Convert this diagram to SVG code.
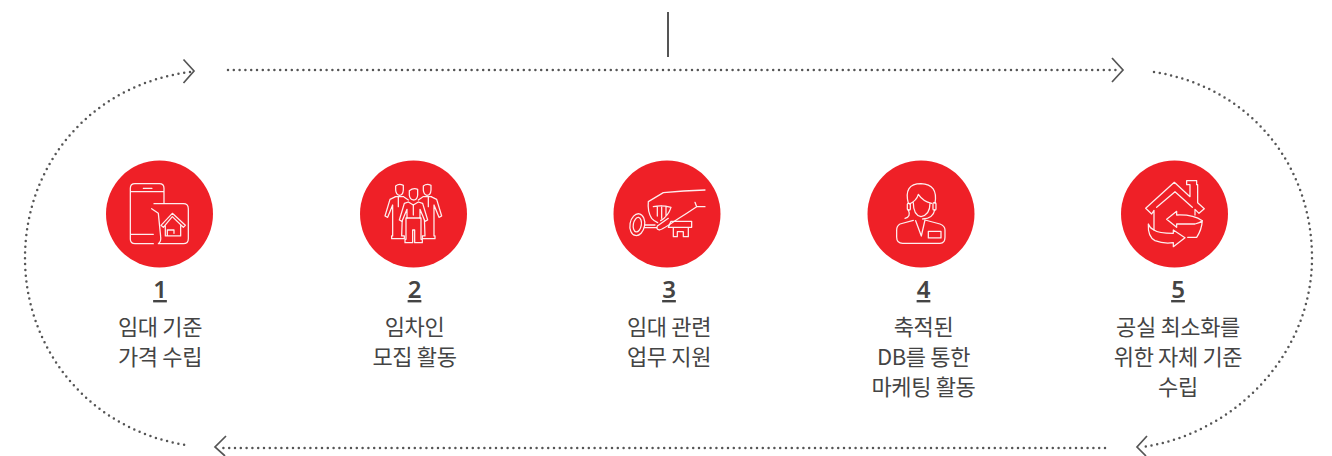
<svg xmlns="http://www.w3.org/2000/svg" width="1332" height="456" viewBox="0 0 1332 456">
<style>
.dot{fill:none;stroke:#555;stroke-width:2.500;stroke-linecap:round;stroke-dasharray:0 5.800}
.head{fill:none;stroke:#555;stroke-width:1.700}
.disc{fill:#ef2027}
.ic{fill:none;stroke:#fff;stroke-width:3.800;stroke-linejoin:round;stroke-linecap:round;stroke-opacity:.92}
.ic .f{fill:#ef2027}
text{font-family:"Noto Sans CJK KR","Noto Sans",sans-serif;fill:#444;text-anchor:middle}
.n{font-family:"Noto Sans","Noto Sans CJK KR",sans-serif;font-size:24px;font-weight:600;text-decoration:underline}
.l{font-size:22px;letter-spacing:-.35px}
</style>
<g id="connectors">
<line x1="668" y1="12" x2="668" y2="57" stroke="#555" stroke-width="2"/>
<path class="dot" d="M190 72C90 85 25 165 25 258C25 350 90 430 186 445"/>
<path class="head" d="M183.500 59.500L194 71L183.500 83"/>
<path class="dot" d="M228 70H1120"/>
<path class="head" d="M1112 58L1123 70L1112 82"/>
<path class="dot" d="M1154 72C1250 87 1312 165 1312 258C1312 350 1240 432 1143 447"/>
<path class="head" d="M1147 436L1137 447L1146 456"/>
<path class="dot" d="M1105 448H220"/>
<path class="head" d="M226 436L215 447L225 456"/>
</g>
<g id="node1">
<circle class="disc" cx="159.500" cy="214" r="53.500"/>
<g class="ic" transform="translate(90 150) scale(.3333)">
<path d="M222 160V115Q222 101 208 101H135Q121 101 121 115V268Q121 281 135 281H190M121 125H222M160 115H186M121 253H190"/>
<path d="M192 161H280Q295 161 295 176V266Q295 281 280 281H205Q214 275 212 260L205 190L185 176"/>
<path d="M213 226L247 190L286 226L280 232L247 200L220 232ZM226 228V258H272V226M232 258V240H252V250"/>
</g>
<text class="n" x="160" y="298">1</text>
<text class="l" x="160" y="335">임대 기준</text>
<text class="l" x="160" y="365">가격 수립</text>
</g>
<g id="node2">
<circle class="disc" cx="413.500" cy="214" r="53.500"/>
<g class="ic" transform="translate(345 150) scale(.3333)">
<path d="M152 108Q162 100 175 106V120Q174 136 163 136Q153 134 152 120ZM152 140L135 148L120 198L128 202L143 165V258H140V266H178V258H170L172 200M178 142L190 150M150 140H176M160 140V170"/>
<path d="M235 108Q245 100 258 106V120Q257 136 246 136Q236 134 235 120ZM258 140L275 148L290 198L282 202L267 165V258H270V266H232V258H240L238 200M232 142L220 150M234 140H260M250 140V170"/>
<path class="f" d="M193 122Q205 113 218 118V135Q217 150 205 150Q194 148 193 135ZM190 156L178 160L163 210L171 214L186 178V204H183V268H180V278H203V240H209V278H232V268H228V204H225V178L240 214L248 210L233 160L220 156L205 165Z"/>
<path d="M205 165V195M186 204H225"/>
</g>
<text class="n" x="414.500" y="298">2</text>
<text class="l" x="414.500" y="335">임차인</text>
<text class="l" x="414.500" y="365">모집 활동</text>
</g>
<g id="node3">
<circle class="disc" cx="667" cy="214" r="53.500"/>
<g class="ic" transform="translate(600 150) scale(.3333)">
<path d="M315 120Q250 122 190 128L145 155Q142 185 155 205Q163 214 173 218"/>
<path d="M160 170Q185 165 213 172Q205 198 182 212M172 170V198M185 168V205M198 170V198"/>
<path d="M172 228Q168 238 178 240Q186 240 232 208Q260 190 290 170H315M285 157L290 170M172 228L205 205"/>
<ellipse cx="112" cy="224" rx="22" ry="33" transform="rotate(10 112 224)"/>
<ellipse cx="112" cy="224" rx="12" ry="22" transform="rotate(10 112 224)"/>
<path d="M135 225H165M134 233H170M205 232L213 214H275V232ZM220 232V260H232V245H250V260H265V232"/>
</g>
<text class="n" x="669" y="298">3</text>
<text class="l" x="669" y="335">임대 관련</text>
<text class="l" x="669" y="365">업무 지원</text>
</g>
<g id="node4">
<circle class="disc" cx="921" cy="214" r="53.500"/>
<g class="ic" transform="translate(850 150) scale(.3333)">
<path d="M175 160Q160 101 213 101Q265 103 255 160M178 162Q200 152 205 133Q220 155 245 160M190 158Q190 195 213 200Q240 195 240 160"/>
<rect x="172" y="160" width="9" height="20" rx="3"/>
<rect x="249" y="158" width="9" height="22" rx="3"/>
<path d="M254 180Q250 205 218 207M175 180Q184 200 165 205"/>
<path d="M190 211L150 222Q140 228 140 240V262Q140 280 158 280H270Q285 280 285 262V240Q285 228 270 222L225 210M197 212L214 258L225 210"/>
<rect x="235" y="244" width="38" height="20"/>
</g>
<text class="n" x="923.500" y="298">4</text>
<text class="l" x="923.500" y="335">축적된</text>
<text class="l" x="923.500" y="365">DB를 통한</text>
<text class="l" x="923.500" y="395">마케팅 활동</text>
</g>
<g id="node5">
<circle class="disc" cx="1174.500" cy="214" r="53.500"/>
<g class="ic" transform="translate(1105 150) scale(.3333)">
<path d="M147 240V181L140 192L122 175L208 97L255 140V104H245V92H275V104H278V158L298 176L282 190L270 178V195M155 172L210 125L262 172"/>
<path d="M215 195V184L185 208L215 232V222H270Q285 218 292 212Q290 240 275 262H248M215 195Q265 193 292 212"/>
<path d="M130 222Q128 260 150 272Q175 282 205 278V290L240 263L205 240V250Q160 250 147 240Q135 235 130 222Z"/>
</g>
<text class="n" x="1178" y="298">5</text>
<text class="l" x="1178" y="335">공실 최소화를</text>
<text class="l" x="1178" y="365">위한 자체 기준</text>
<text class="l" x="1178" y="395">수립</text>
</g>
</svg>
